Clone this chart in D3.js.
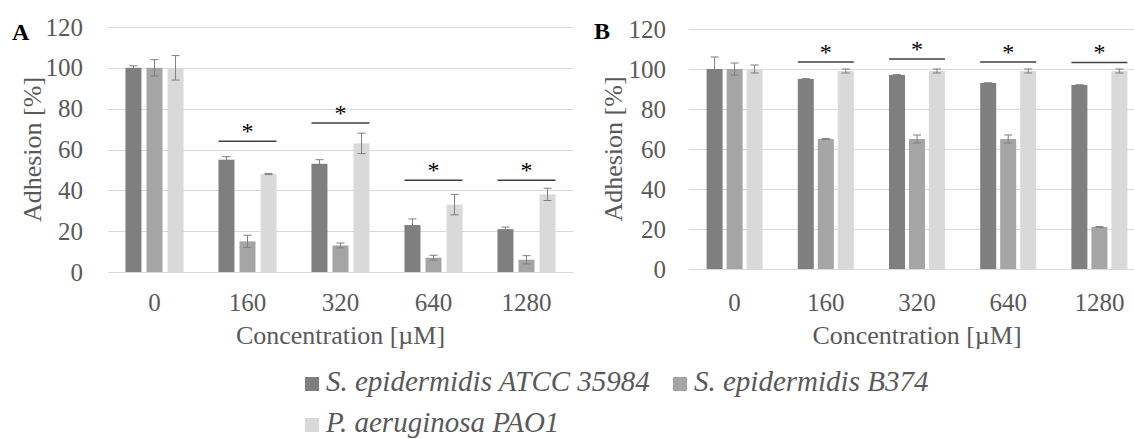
<!DOCTYPE html>
<meta charset="utf-8">
<style>
  body { margin: 0; background: #fff; }
  svg { display: block; background: #fff; }
  .grid line { stroke: #d9d9d9; stroke-width: 1px; }
  .axis text { fill: #595959; }
  .axis path, .axis line { display: none; }
  .err line { stroke: #7f7f7f; stroke-width: 1px; }
  .sig line { stroke: #404040; stroke-width: 1.5px; }
  .sig text { fill: #000; }
</style>
<svg width="1134" height="439" font-family="'Liberation Serif', 'Times New Roman', serif"></svg>
<script src="https://cdn.jsdelivr.net/npm/d3@7/dist/d3.min.js"></script>
<script>

  var serif = "'Liberation Serif', 'Times New Roman', serif";

  var concentrations = ["0", "160", "320", "640", "1280"];
  var seriesNames = ["S. epidermidis ATCC 35984", "S. epidermidis B374", "P. aeruginosa PAO1"];
  var colors = ["#7f7f7f", "#a5a5a5", "#d9d9d9"];
  var yTicks = [0, 20, 40, 60, 80, 100, 120];

  // panel A - mean adhesion and error
  var aAtcc = [100, 55, 53, 23, 21];
  var aAtccErr = [1, 1.5, 2, 3, 1];
  var aB374 = [100, 15, 13, 7, 6];
  var aB374Err = [4, 3, 1.2, 1.2, 2];
  var aPao1 = [100, 48, 63, 33, 38];
  var aPao1Err = [6, 0.3, 5, 5, 3];
  var aSig = [null, 64, 73, 45, 45];   // height of the significance bar

  // panel B
  var bAtcc = [100, 95, 97, 93, 92];
  var bAtccErr = [6, 0.2, 0.2, 0, 0];
  var bB374 = [100, 65, 65, 65, 21];
  var bB374Err = [3, 0.2, 2, 2, 0.2];
  var bPao1 = [100, 99, 99, 99, 99];
  var bPao1Err = [2, 1, 1, 1, 1];
  var bSig = [null, 103.5, 105, 103.5, 103.3];

  var svg = d3.select("svg");

  function panel(p) {
    var x0 = d3.scaleBand().domain(concentrations).range(p.xr);
    var x1 = d3.scaleBand().domain([0, 1, 2]).range([0, x0.bandwidth()])
          .paddingInner(p.pi).paddingOuter(p.po);
    var y = d3.scaleLinear().domain([0, 120]).range(p.yr);

    var g = svg.append("g");

    g.append("g").attr("class", "grid")
          .selectAll("line").data(yTicks).enter().append("line")
          .attr("x1", p.xr[0]).attr("x2", p.xr[1])
          .attr("y1", function (d) { return Math.round(y(d)) + 0.5; })
          .attr("y2", function (d) { return Math.round(y(d)) + 0.5; });

    g.append("g").attr("class", "axis")
          .attr("transform", "translate(" + p.xr[0] + ",0)")
          .call(d3.axisLeft(y).tickValues(yTicks).tickSize(0).tickPadding(p.yPad))
          .attr("font-family", serif).attr("font-size", 25);

    g.append("g").attr("class", "axis")
          .attr("transform", "translate(0," + y(0) + ")")
          .call(d3.axisBottom(x0).tickSize(0).tickPadding(p.xPad))
          .attr("font-family", serif).attr("font-size", 25);

    // flatten to one record per bar
    var bars = [];
    concentrations.forEach(function (c, j) {
      p.series.forEach(function (s, i) {
        bars.push({c: c, i: i, v: s[j], e: p.errs[i][j]});
      });
    });

    g.append("g").selectAll("rect").data(bars).enter().append("rect")
          .attr("x", function (d) { return x0(d.c) + x1(d.i); })
          .attr("width", x1.bandwidth())
          .attr("y", function (d) { return y(d.v); })
          .attr("height", function (d) { return y(0) - y(d.v); })
          .attr("fill", function (d) { return colors[d.i]; });

    var err = g.append("g").attr("class", "err").selectAll("g").data(bars).enter().append("g")
          .attr("transform", function (d) { return "translate(" + (x0(d.c) + x1(d.i) + x1.bandwidth() / 2) + ",0)"; });
    err.append("line")
          .attr("y1", function (d) { return y(d.v + d.e); })
          .attr("y2", function (d) { return y(d.v - d.e); });
    err.append("line").attr("x1", -4).attr("x2", 4)
          .attr("y1", function (d) { return y(d.v + d.e); })
          .attr("y2", function (d) { return y(d.v + d.e); });
    err.append("line").attr("x1", -4).attr("x2", 4)
          .attr("y1", function (d) { return y(d.v - d.e); })
          .attr("y2", function (d) { return y(d.v - d.e); });

    var sigData = concentrations.map(function (c, j) { return {c: c, v: p.sig[j]}; })
          .filter(function (d) { return d.v != null; });
    var sig = g.append("g").attr("class", "sig").selectAll("g").data(sigData).enter().append("g");
    sig.append("line")
          .attr("x1", function (d) { return x0(d.c) + x1(0); })
          .attr("x2", function (d) { return x0(d.c) + x1(2) + x1.bandwidth(); })
          .attr("y1", function (d) { return y(d.v); })
          .attr("y2", function (d) { return y(d.v); });
    sig.append("text").attr("text-anchor", "middle").attr("font-size", 24)
          .attr("x", function (d) { return x0(d.c) + x0.bandwidth() / 2; })
          .attr("y", function (d) { return y(d.v) - 2; })
          .text("*");

    // panel letter
    g.append("text").attr("x", p.letterX).attr("y", p.letterY)
          .attr("font-size", 24).attr("font-weight", "bold").attr("fill", "#000")
          .text(p.letter);

    g.append("text")
          .attr("transform", "translate(" + p.yTitleX + "," + ((p.yr[0] + p.yr[1]) / 2) + ")rotate(-90)")
          .attr("text-anchor", "middle").attr("font-size", 26).attr("fill", "#595959")
          .text("Adhesion [%]");

    g.append("text")
          .attr("x", (p.xr[0] + p.xr[1]) / 2).attr("y", 344)
          .attr("text-anchor", "middle").attr("font-size", 26).attr("fill", "#595959")
          .text("Concentration [\u00b5M]");
  }

  panel({
    xr: [108, 573], yr: [272, 27], pi: 0.24, po: 0.83, yPad: 25, xPad: 21,
    series: [aAtcc, aB374, aPao1], errs: [aAtccErr, aB374Err, aPao1Err], sig: aSig,
    letter: "A", letterX: 12, letterY: 40, yTitleX: 41
  });

  panel({
    xr: [689, 1145], yr: [269, 29], pi: 0.2, po: 0.88, yPad: 23, xPad: 24,
    series: [bAtcc, bB374, bPao1], errs: [bAtccErr, bB374Err, bPao1Err], sig: bSig,
    letter: "B", letterX: 594, letterY: 39, yTitleX: 622
  });

  // legend
  var legendPos = [[305, 391], [673, 391], [305, 432]];
  var legend = svg.append("g").selectAll("g").data(seriesNames).enter().append("g")
        .attr("transform", function (d, i) { return "translate(" + legendPos[i][0] + "," + legendPos[i][1] + ")"; });
  legend.append("rect").attr("x", 0).attr("y", -14).attr("width", 14).attr("height", 14)
        .attr("fill", function (d, i) { return colors[i]; });
  legend.append("text").attr("x", 21).attr("y", 0)
        .attr("font-family", serif)
        .attr("font-size", 29).attr("font-style", "italic").attr("fill", "#595959")
        .text(function (d) { return d; });

</script>
